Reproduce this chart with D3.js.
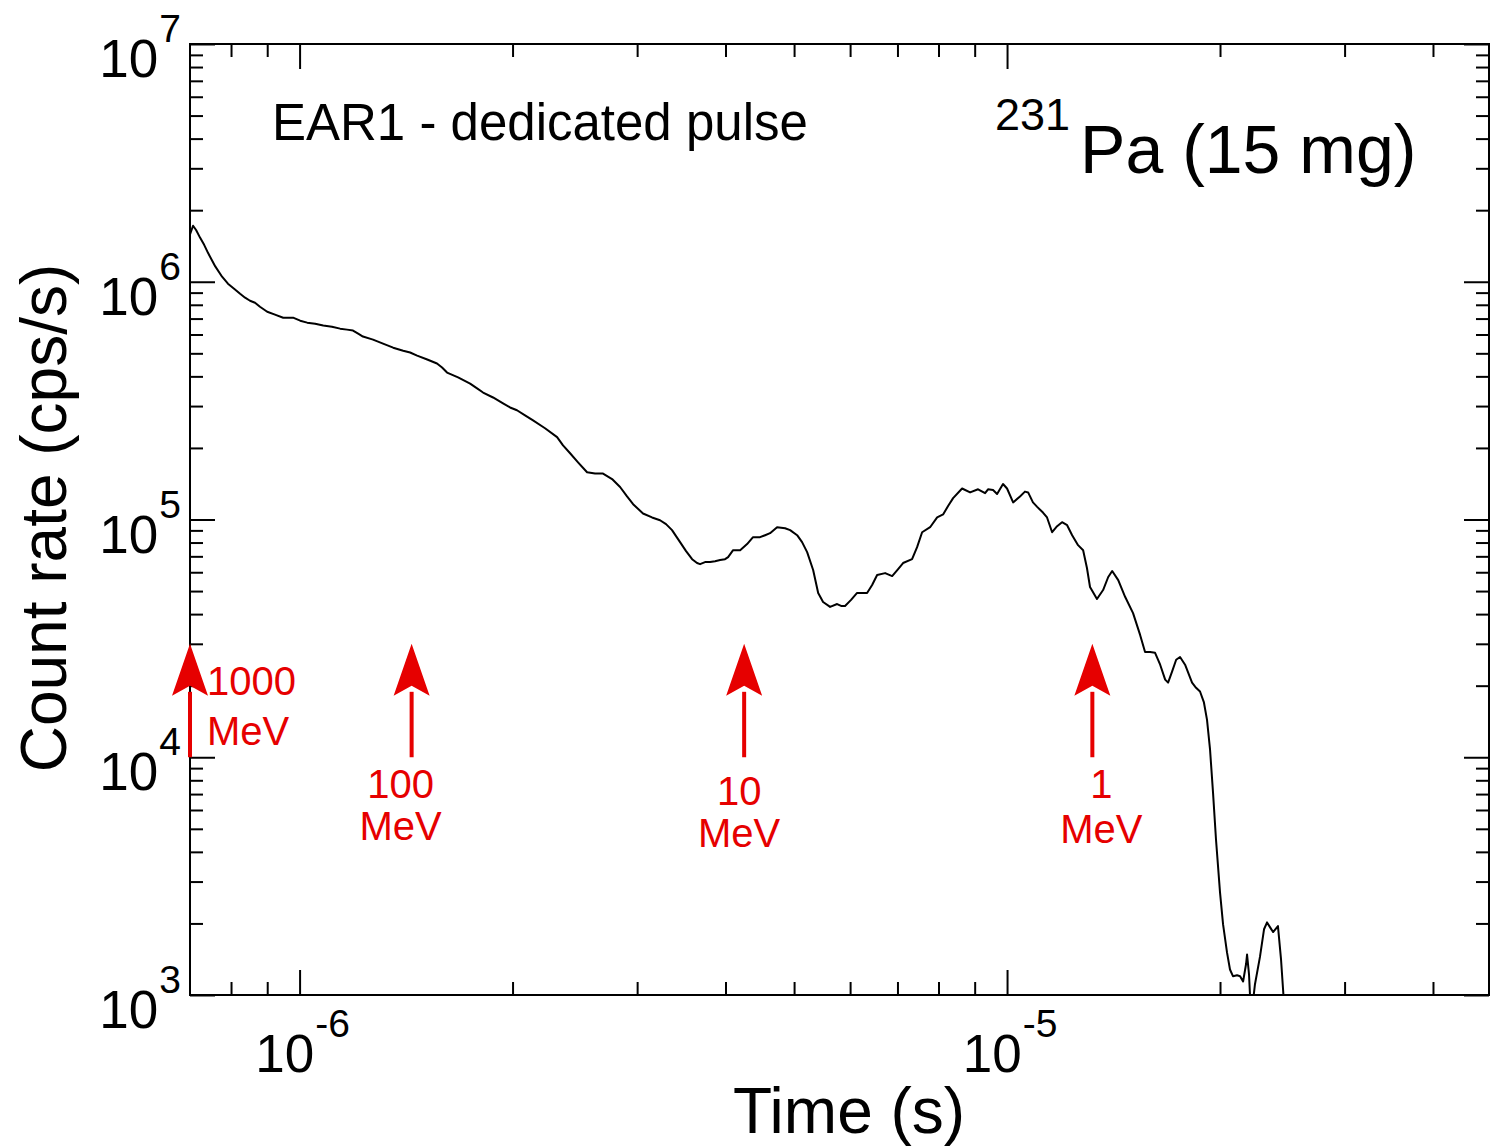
<!DOCTYPE html>
<html>
<head>
<meta charset="utf-8">
<title>231Pa count rate - EAR1 dedicated pulse</title>
<script src="https://d3js.org/d3.v7.min.js"></script>
<style>
  body { margin: 0; background: #fff; }
  svg { display: block; font-family: "Liberation Sans", Arial, Helvetica, sans-serif; }
  .frame { fill: none; stroke: #000; stroke-width: 2px; }
  .curve { fill: none; stroke: #000; stroke-width: 2px; stroke-linejoin: round; }
  .arrow line { stroke: #e60000; stroke-width: 4px; }
  .arrow path { fill: #e60000; }
  .arrow text { fill: #e60000; font-size: 40px; }
</style>
</head>
<body>
<svg width="1490" height="1148"></svg>
<script>
// time of flight (microseconds) and count rate (cps/s)
const timeUs = [
  0.700, 0.707, 0.714, 0.7235, 0.733, 0.7425, 0.760, 0.777, 0.792, 0.808,
  0.824, 0.8375, 0.851, 0.865, 0.879, 0.900, 0.923, 0.948, 0.979, 1.002,
  1.025, 1.052, 1.080, 1.111, 1.141, 1.167, 1.190, 1.210, 1.229, 1.270,
  1.312, 1.356, 1.401, 1.433, 1.466, 1.515, 1.564, 1.590, 1.616, 1.675,
  1.742, 1.782, 1.817, 1.877, 1.939, 1.984, 2.029, 2.083, 2.138, 2.223,
  2.312, 2.357, 2.412, 2.475, 2.549, 2.616, 2.685, 2.765, 2.838, 2.903,
  2.961, 3.058, 3.149, 3.232, 3.296, 3.361, 3.405, 3.450, 3.518, 3.588,
  3.646, 3.682, 3.742, 3.804, 3.866, 3.930, 3.994, 4.034, 4.100, 4.195,
  4.291, 4.375, 4.476, 4.550, 4.624, 4.731, 4.856, 4.936, 5.050, 5.132,
  5.217, 5.320, 5.408, 5.495, 5.622, 5.752, 5.827, 5.902, 6.019, 6.138,
  6.341, 6.446, 6.552, 6.725, 6.880, 7.015, 7.129, 7.341, 7.462, 7.585,
  7.785, 7.965, 8.121, 8.254, 8.390, 8.639, 8.867, 9.100, 9.310, 9.400,
  9.555, 9.681, 9.870, 10.00, 10.20, 10.43, 10.60, 10.71, 10.88, 11.03,
  11.24, 11.39, 11.58, 11.77, 11.96, 12.16, 12.36, 12.60, 12.81, 12.97,
  13.10, 13.40, 13.67, 13.90, 14.08, 14.36, 14.69, 15.07, 15.42, 15.67,
  15.93, 16.19, 16.46, 16.73, 16.89, 17.11, 17.34, 17.56, 17.85, 18.26,
  18.50, 18.74, 18.98, 19.17, 19.36, 19.55, 19.74, 20.00, 20.20, 20.46,
  20.66, 20.86, 21.14, 21.35, 21.56, 21.77, 21.84, 21.98, 22.13, 22.41,
  22.78, 23.08, 23.31, 23.53, 23.77, 24.15, 24.39, 24.71
];
const countRate = [
  1.58e6, 1.72e6, 1.65e6, 1.53e6, 1.43e6, 1.32e6, 1.16e6, 1.05e6, 9.81e5, 9.35e5,
  8.90e5, 8.57e5, 8.32e5, 8.16e5, 7.85e5, 7.48e5, 7.27e5, 7.06e5, 7.06e5, 6.86e5,
  6.73e5, 6.66e5, 6.54e5, 6.47e5, 6.35e5, 6.29e5, 6.23e5, 6.05e5, 5.88e5, 5.71e5,
  5.49e5, 5.28e5, 5.13e5, 5.04e5, 4.89e5, 4.71e5, 4.53e5, 4.36e5, 4.15e5, 3.96e5,
  3.73e5, 3.56e5, 3.42e5, 3.26e5, 3.08e5, 2.96e5, 2.88e5, 2.74e5, 2.61e5, 2.42e5,
  2.22e5, 2.05e5, 1.90e5, 1.74e5, 1.58e5, 1.56e5, 1.56e5, 1.48e5, 1.37e5, 1.25e5,
  1.16e5, 1.06e5, 1.02e5, 9.93e4, 9.56e4, 9.02e4, 8.51e4, 8.03e4, 7.36e4, 6.81e4,
  6.56e4, 6.49e4, 6.62e4, 6.62e4, 6.68e4, 6.75e4, 6.81e4, 6.95e4, 7.43e4, 7.43e4,
  7.88e4, 8.43e4, 8.43e4, 8.59e4, 8.76e4, 9.28e4, 9.19e4, 9.02e4, 8.59e4, 8.03e4,
  7.29e4, 6.13e4, 4.91e4, 4.50e4, 4.29e4, 4.41e4, 4.33e4, 4.33e4, 4.59e4, 4.91e4,
  4.91e4, 5.30e4, 5.84e4, 5.95e4, 5.78e4, 6.19e4, 6.56e4, 6.81e4, 7.65e4, 8.84e4,
  9.28e4, 1.02e5, 1.05e5, 1.14e5, 1.23e5, 1.35e5, 1.30e5, 1.34e5, 1.29e5, 1.34e5,
  1.33e5, 1.28e5, 1.41e5, 1.35e5, 1.18e5, 1.25e5, 1.31e5, 1.30e5, 1.18e5, 1.13e5,
  1.07e5, 1.02e5, 8.84e4, 9.37e4, 9.74e4, 9.46e4, 8.59e4, 7.80e4, 7.43e4, 6.25e4,
  5.20e4, 4.63e4, 5.05e4, 5.73e4, 6.07e4, 5.56e4, 4.72e4, 4.04e4, 3.27e4, 2.77e4,
  2.77e4, 2.75e4, 2.45e4, 2.12e4, 2.06e4, 2.29e4, 2.57e4, 2.64e4, 2.45e4, 2.06e4,
  1.96e4, 1.89e4, 1.70e4, 1.44e4, 1.08e4, 7.10e3, 4.51e3, 2.70e3, 1.98e3, 1.51e3,
  1.28e3, 1.20e3, 1.21e3, 1.20e3, 1.14e3, 1.35e3, 1.48e3, 1.22e3, 800, 1.11e3,
  1.45e3, 1.89e3, 2.02e3, 1.93e3, 1.84e3, 1.95e3, 1.42e3, 800
];

// neutron energy markers: energy label and time of flight (s)
const arrowEnergy = ["1000", "100", "10", "1"];
const arrowTime = [7.0e-7, 1.44e-6, 4.25e-6, 1.32e-5];
const arrowSpan = [1e4, 3e4];

const xMajor = [1e-6, 1e-5];
const yMajor = [1e3, 1e4, 1e5, 1e6, 1e7];

const svg = d3.select("svg");
const plotL = 190, plotR = 1489, plotT = 44, plotB = 995;

const x = d3.scaleLog().domain([7e-7, 4.8e-5]).range([plotL, plotR]);
const y = d3.scaleLog().domain([1e3, 1e7]).range([plotB, plotT]);

const isMajor = v => Math.abs(Math.log10(v) - Math.round(Math.log10(v))) < 1e-6;
const xMinor = x.ticks().filter(v => !isMajor(v) && v > 7.01e-7 && v < 4.79e-5);
const yMinor = y.ticks().filter(v => !isMajor(v));

// ticks on all four sides, pointing inward
function ticks(axisFn, scale, values, size, transform) {
  svg.append("g")
    .attr("transform", transform)
    .call(axisFn(scale).tickValues(values).tickSize(size).tickFormat(""))
    .call(g => g.select(".domain").remove())
    .selectAll("line").attr("stroke-width", 2);
}
ticks(d3.axisBottom, x, xMajor, -25, `translate(0,${plotB})`);
ticks(d3.axisBottom, x, xMinor, -13, `translate(0,${plotB})`);
ticks(d3.axisTop, x, xMajor, -25, `translate(0,${plotT})`);
ticks(d3.axisTop, x, xMinor, -13, `translate(0,${plotT})`);
ticks(d3.axisLeft, y, yMajor, -25, `translate(${plotL},0)`);
ticks(d3.axisLeft, y, yMinor, -13, `translate(${plotL},0)`);
ticks(d3.axisRight, y, yMajor, -25, `translate(${plotR},0)`);
ticks(d3.axisRight, y, yMinor, -13, `translate(${plotR},0)`);

svg.append("rect").attr("class", "frame")
  .attr("x", plotL).attr("y", plotT)
  .attr("width", plotR - plotL).attr("height", plotB - plotT);

// tick labels 10^n
function powLabel(sel, n) {
  sel.append("tspan").attr("font-size", 53).text("10");
  sel.append("tspan").attr("font-size", 39).attr("dx", 1).attr("dy", -35).text(n);
}
xMajor.forEach(v => {
  svg.append("text")
    .attr("x", x(v) + 3).attr("y", plotB + 77)
    .attr("text-anchor", "middle")
    .call(powLabel, Math.round(Math.log10(v)));
});
yMajor.forEach(v => {
  svg.append("text")
    .attr("x", 181).attr("y", y(v) + 33)
    .attr("text-anchor", "end")
    .call(powLabel, Math.round(Math.log10(v)));
});

// axis titles
svg.append("text")
  .attr("x", 849).attr("y", 1133)
  .attr("text-anchor", "middle").attr("font-size", 64)
  .text("Time (s)");
svg.append("text")
  .attr("transform", "translate(66,518) rotate(-90)")
  .attr("text-anchor", "middle").attr("font-size", 64)
  .text("Count rate (cps/s)");

// data curve
svg.append("clipPath").attr("id", "plot")
  .append("rect").attr("x", plotL).attr("y", plotT)
  .attr("width", plotR - plotL).attr("height", plotB - plotT);

const data = timeUs.map((t, i) => ({ t: t * 1e-6, c: countRate[i] }));
svg.append("path")
  .datum(data)
  .attr("class", "curve")
  .attr("clip-path", "url(#plot)")
  .attr("d", d3.line().x(d => x(d.t)).y(d => y(d.c)));

// energy arrows
const labelLayout = [
  { anchor: "start", dx: 17, y1: 695, y2: 745 },
  { anchor: "middle", dx: -11, y1: 798, y2: 840 },
  { anchor: "middle", dx: -5, y1: 805, y2: 847 },
  { anchor: "middle", dx: 9, y1: 798, y2: 843 }
];
const headLen = 52, headHalf = 18;
arrowTime.forEach((t, i) => {
  const ax = x(t), y0 = y(arrowSpan[0]), y1 = y(arrowSpan[1]);
  const g = svg.append("g").attr("class", "arrow");
  g.append("line").attr("x1", ax).attr("x2", ax).attr("y1", y0).attr("y2", y1 + headLen - 4);
  g.append("path").attr("d",
    `M${ax},${y1} L${ax + headHalf},${y1 + headLen} L${ax},${y1 + headLen - 10} L${ax - headHalf},${y1 + headLen} Z`);
  const L = labelLayout[i];
  g.append("text").attr("x", ax + L.dx).attr("y", L.y1).attr("text-anchor", L.anchor).text(arrowEnergy[i]);
  g.append("text").attr("x", ax + L.dx).attr("y", L.y2).attr("text-anchor", L.anchor).text("MeV");
});

// annotations
svg.append("text")
  .attr("x", 272).attr("y", 140).attr("font-size", 51)
  .text("EAR1 - dedicated pulse");
const iso = svg.append("text").attr("x", 995).attr("y", 173);
iso.append("tspan").attr("font-size", 45).attr("dy", -43).text("231");
iso.append("tspan").attr("font-size", 68).attr("dx", 10).attr("dy", 43).text("Pa (15 mg)");
</script>
</body>
</html>
